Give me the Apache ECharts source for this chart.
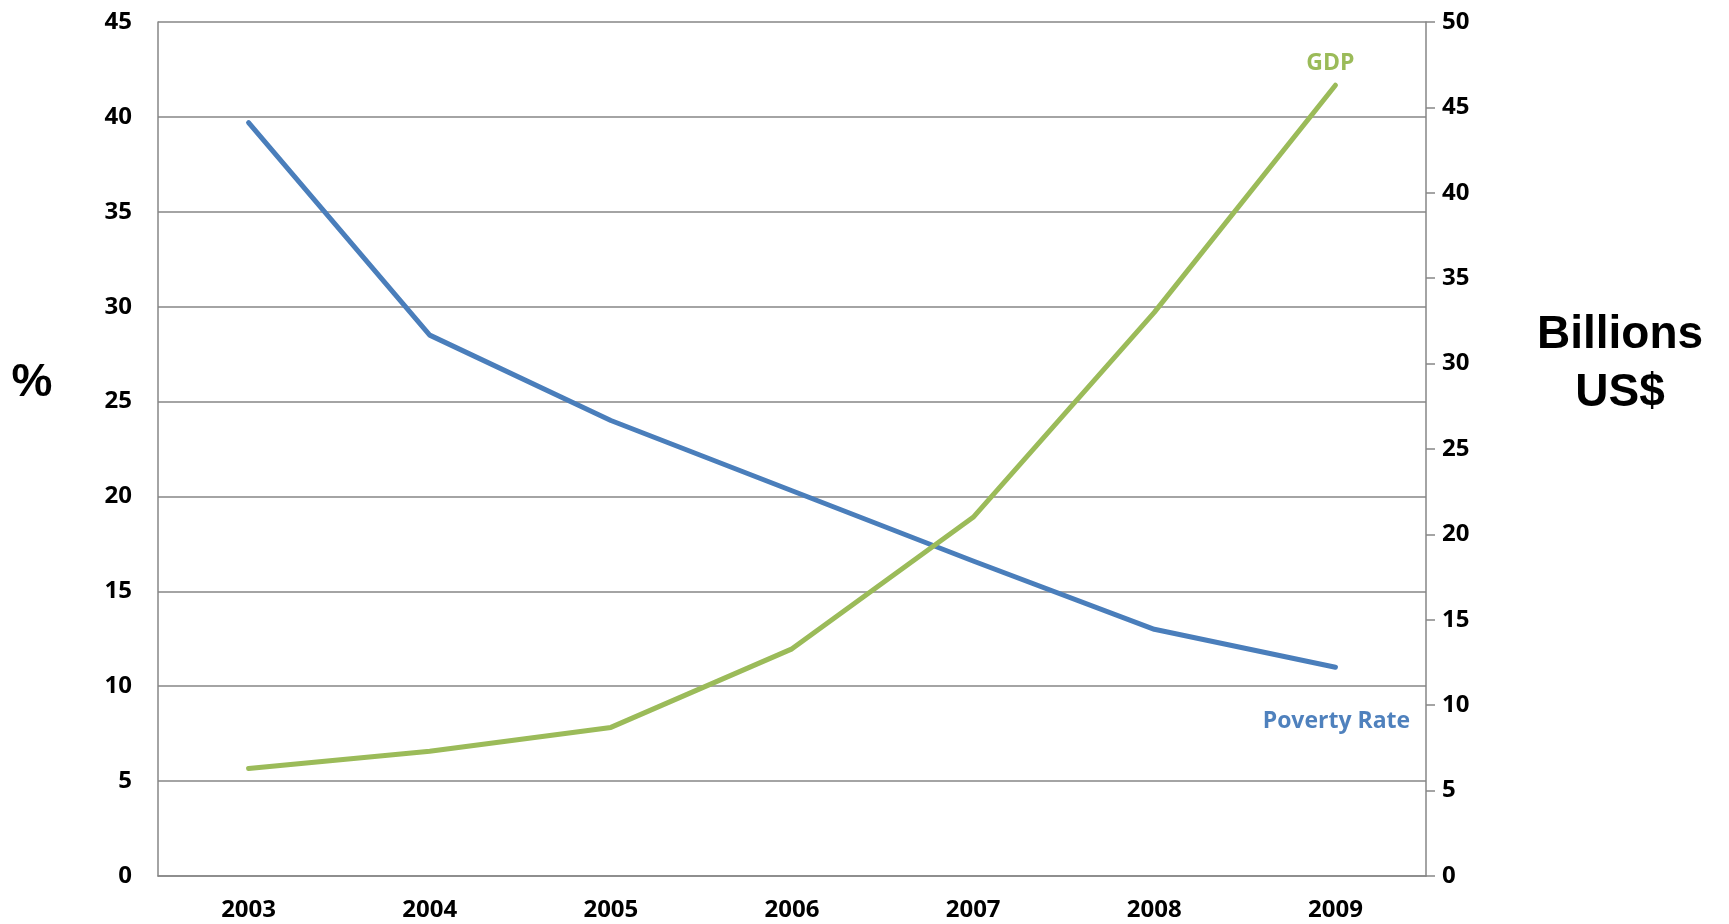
<!DOCTYPE html>
<html>
<head>
<meta charset="utf-8">
<script src="https://cdn.jsdelivr.net/npm/echarts@6/dist/echarts.min.js"></script>
<style>
html,body{margin:0;padding:0;background:#fff;}
#chart{width:1729px;height:924px;}
</style>
</head>
<body>
<div id="chart"></div>
<script>
const years = ['2003','2004','2005','2006','2007','2008','2009'];
const povertyRate = [39.7, 28.5, 24.0, 20.3, 16.6, 13.0, 11.0];
const gdp = [6.3, 7.3, 8.7, 13.3, 21.0, 33.0, 46.3];
const leftTicks = {min: 0, max: 45, interval: 5};
const rightTicks = {min: 0, max: 50, interval: 5};

const FONT = '"Open Sans"';
const gray = '#868686';
const blue = '#4a7ebb';
const green = '#9bbb59';

const last = years.length - 1;
const povData = povertyRate.map((v, i) => i === last ? {
  value: v,
  label: {show: true, formatter: 'Poverty Rate', position: 'bottom', distance: 41, offset: [1, 2],
    fontFamily: FONT, fontWeight: 'bold', fontSize: 23, color: '#4f81bd'}
} : v);
const gdpData = gdp.map((v, i) => i === last ? {
  value: v,
  label: {show: true, formatter: 'GDP', position: 'top', distance: 8, offset: [-5, -2],
    fontFamily: FONT, fontWeight: 'bold', fontSize: 23, color: green}
} : v);

const chart = echarts.init(document.getElementById('chart'));
chart.setOption({
  animation: false,
  backgroundColor: '#fff',
  textStyle: {fontFamily: FONT, fontWeight: 'bold', fontSize: 24, color: '#000'},
  grid: {left: 158, right: 303, top: 22, bottom: 48, containLabel: false},
  xAxis: {
    type: 'category',
    data: years,
    boundaryGap: true,
    axisLine: {show: true, lineStyle: {color: gray, width: 1.5}},
    axisTick: {show: false},
    axisLabel: {margin: 22, fontFamily: FONT, fontWeight: 'bold', fontSize: 24, color: '#000'},
    splitLine: {show: false}
  },
  yAxis: [{
    type: 'value',
    position: 'left',
    min: leftTicks.min, max: leftTicks.max, interval: leftTicks.interval,
    axisLine: {show: true, lineStyle: {color: gray, width: 1.5}},
    axisTick: {show: false},
    axisLabel: {margin: 26, fontFamily: FONT, fontWeight: 'bold', fontSize: 24, color: '#000'},
    splitLine: {show: true, lineStyle: {color: gray, width: 1.5}}
  }, {
    type: 'value',
    position: 'right',
    min: rightTicks.min, max: rightTicks.max, interval: rightTicks.interval,
    axisLine: {show: true, lineStyle: {color: gray, width: 1.5}},
    axisTick: {show: true, inside: false, length: 9, lineStyle: {color: gray, width: 1.5}},
    axisLabel: {margin: 16, fontFamily: FONT, fontWeight: 'bold', fontSize: 24, color: '#000'},
    splitLine: {show: false}
  }],
  series: [{
    name: 'Poverty Rate',
    type: 'line',
    yAxisIndex: 0,
    data: povData,
    symbol: 'circle',
    symbolSize: 0,
    showSymbol: true,
    lineStyle: {color: blue, width: 5, cap: 'round', join: 'round'},
    itemStyle: {color: blue},
    label: {show: false}
  }, {
    name: 'GDP',
    type: 'line',
    yAxisIndex: 1,
    data: gdpData,
    symbol: 'circle',
    symbolSize: 0,
    showSymbol: true,
    lineStyle: {color: green, width: 5, cap: 'round', join: 'round'},
    itemStyle: {color: green},
    label: {show: false}
  }],
  graphic: [{
    type: 'text',
    x: 32, y: 383,
    style: {text: '%', font: 'bold 46px "Liberation Sans", Arial', fill: '#000',
      align: 'center', verticalAlign: 'middle'}
  }, {
    type: 'text',
    x: 1620, y: 364,
    style: {text: 'Billions\nUS$', font: 'bold 46px "Liberation Sans", Arial', fill: '#000',
      align: 'center', verticalAlign: 'middle', lineHeight: 58}
  }]
});
</script>
</body>
</html>
